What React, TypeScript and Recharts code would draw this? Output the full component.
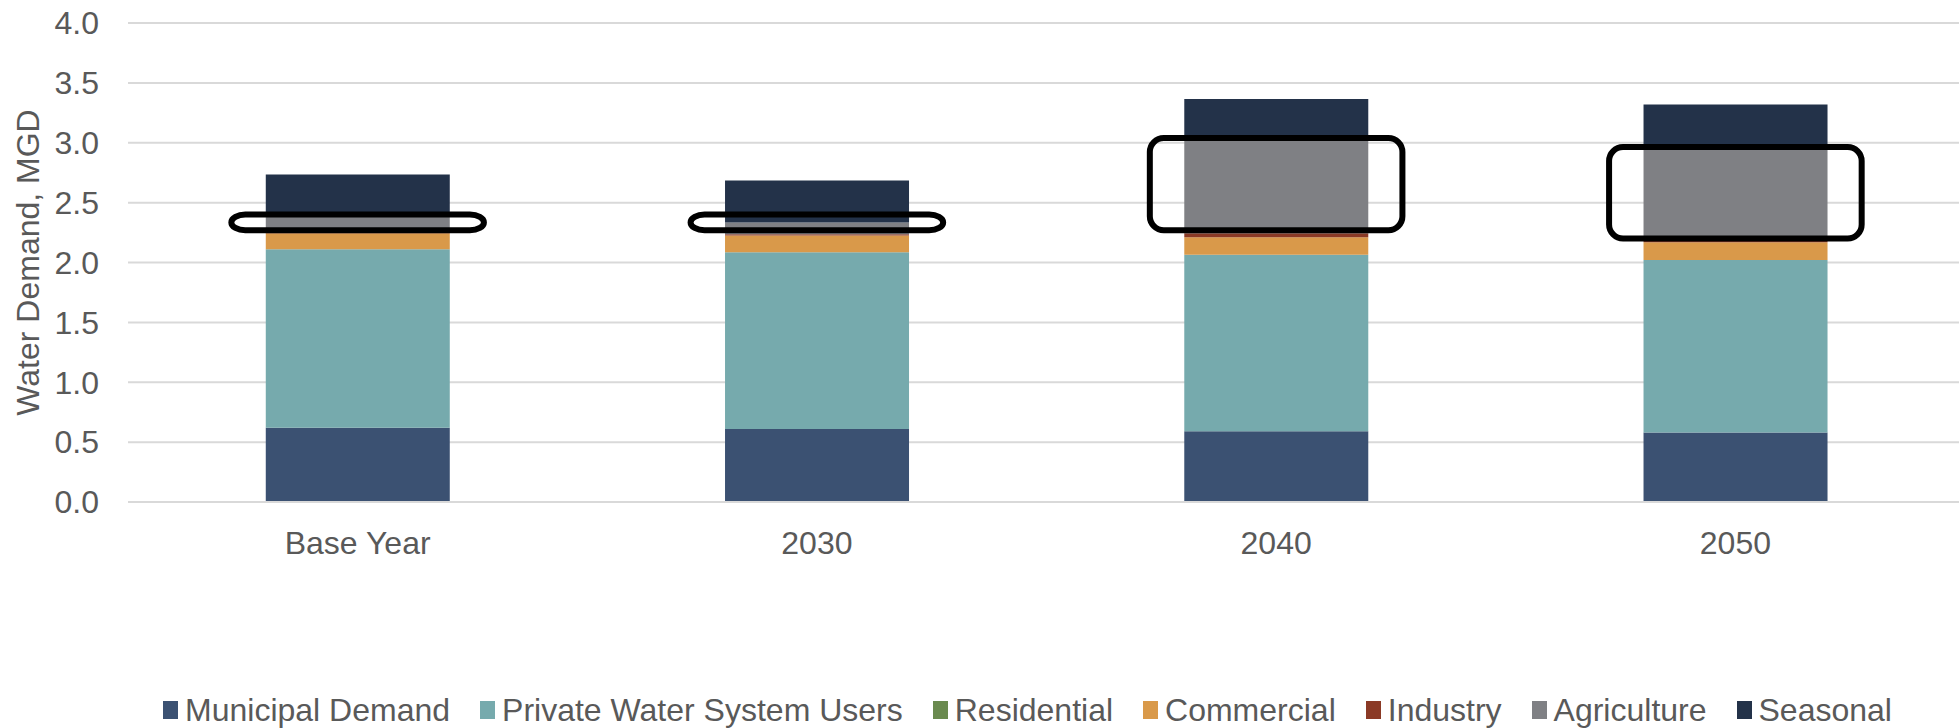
import React from 'react';
import {
  BarChart,
  Bar,
  XAxis,
  YAxis,
  CartesianGrid,
  ReferenceArea,
  Legend,
} from 'recharts';

// categories and stacked series (MGD)
const years = ['Base Year', '2030', '2040', '2050'];
const municipal = [0.62, 0.61, 0.59, 0.58];
const privateUsers = [1.49, 1.475, 1.475, 1.44];
const residential = [0, 0, 0, 0];
const commercial = [0.135, 0.14, 0.145, 0.15];
const industry = [0.01, 0.01, 0.035, 0.01];
const agriculture = [0.13, 0.10, 0.82, 0.78];
const seasonal = [0.35, 0.35, 0.30, 0.36];

// highlighted ranges (rounded boxes)
const boxTop = [2.40, 2.40, 3.04, 2.965];
const boxBottom = [2.27, 2.27, 2.27, 2.20];

const yTicks = [0, 0.5, 1, 1.5, 2, 2.5, 3, 3.5, 4];

const series = [
  { key: 'municipal', name: 'Municipal Demand', color: '#3b5172', values: municipal },
  { key: 'private', name: 'Private Water System Users', color: '#76aaad', values: privateUsers },
  { key: 'residential', name: 'Residential', color: '#6a8a4f', values: residential },
  { key: 'commercial', name: 'Commercial', color: '#d9994a', values: commercial },
  { key: 'industry', name: 'Industry', color: '#8b3a26', values: industry },
  { key: 'agriculture', name: 'Agriculture', color: '#7f8084', values: agriculture },
  { key: 'seasonal', name: 'Seasonal', color: '#233249', values: seasonal },
];

const data = years.map((year, i) => {
  const row: Record<string, string | number> = { year };
  series.forEach(s => {
    row[s.key] = s.values[i];
  });
  return row;
});

const FONT = '"Liberation Sans", Arial, sans-serif';
const TEXT = '#595959';

function LegendContent() {
  return (
    <div
      style={{
        display: 'flex',
        justifyContent: 'center',
        alignItems: 'center',
        height: 36,
        paddingLeft: 82,
        fontFamily: FONT,
        fontSize: 32,
        color: TEXT,
        whiteSpace: 'nowrap',
      }}
    >
      {series.map(s => (
        <div key={s.key} style={{ display: 'flex', alignItems: 'center', marginRight: 30 }}>
          <span style={{ width: 15, height: 18, background: s.color, marginRight: 7, display: 'inline-block' }} />
          <span>{s.name}</span>
        </div>
      ))}
    </div>
  );
}

const HighlightBox = (props: any) => {
  const { x, y, width, height } = props;
  const w = width * 0.55;
  return (
    <rect
      x={x + (width - w) / 2}
      y={y}
      width={w}
      height={height}
      rx={14}
      ry={14}
      fill="none"
      stroke="#000"
      strokeWidth={6}
    />
  );
};

export default function App() {
  return (
    <div style={{ position: 'absolute', left: 0, top: 0, width: 1959, height: 728, background: '#fff', overflow: 'hidden' }}>
      <BarChart
        width={1959}
        height={728}
        data={data}
        barCategoryGap="30%"
        margin={{ top: 23, right: -6, left: 38, bottom: 0 }}
      >
        <CartesianGrid vertical={false} stroke="#d9d9d9" strokeWidth={2} />
        <XAxis
          dataKey="year"
          height={190}
          axisLine={{ stroke: '#d9d9d9', strokeWidth: 2 }}
          tickLine={false}
          tickSize={0}
          tickMargin={29}
          tick={{ fontSize: 32, fill: TEXT, fontFamily: FONT }}
        />
        <YAxis
          width={90}
          domain={[0, 4]}
          ticks={yTicks}
          interval={0}
          tickFormatter={(v: number) => v.toFixed(1)}
          axisLine={false}
          tickLine={false}
          tickSize={0}
          tickMargin={29}
          tick={{ fontSize: 32, fill: TEXT, fontFamily: FONT }}
          label={{
            content: ({ viewBox }: any) => {
              const cx = 28;
              const cy = viewBox.y + viewBox.height / 2;
              return (
                <text
                  x={cx}
                  y={cy}
                  transform={`rotate(-90, ${cx}, ${cy})`}
                  textAnchor="middle"
                  dominantBaseline="central"
                  fontSize={32}
                  fill={TEXT}
                  fontFamily={FONT}
                >
                  Water Demand, MGD
                </text>
              );
            },
          }}
        />
        {series.map(s => (
          <Bar
            key={s.key}
            dataKey={s.key}
            name={s.name}
            stackId="a"
            fill={s.color}
            isAnimationActive={false}
          />
        ))}
        {years.map((year, i) => (
          <ReferenceArea
            key={`box-${year}`}
            x1={year}
            x2={year}
            y1={boxBottom[i]}
            y2={boxTop[i]}
            ifOverflow="visible"
            zIndex={1000}
            shape={HighlightBox}
          />
        ))}
        <Legend verticalAlign="bottom" content={<LegendContent />} />
      </BarChart>
    </div>
  );
}
